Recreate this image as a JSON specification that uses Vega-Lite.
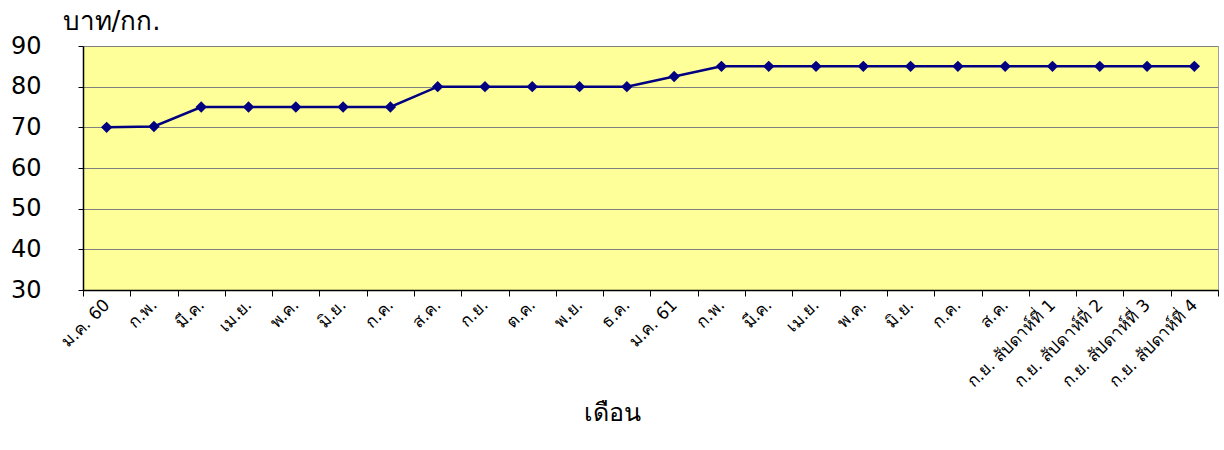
{
  "$schema": "https://vega.github.io/schema/vega-lite/v6.json",
  "autosize": {"type": "none"},
  "width": 1135,
  "height": 244,
  "padding": {"left": 83, "top": 46, "right": 6, "bottom": 160},
  "background": "#ffffff",
  "config": {
    "view": {"fill": "#ffff99", "stroke": "#a0a0a0", "strokeWidth": 1},
    "font": "DejaVu Sans"
  },
  "data": {
    "values": [
      {"key": "ม.ค. 60|0", "price": 70},
      {"key": "ก.พ.|1", "price": 70.2},
      {"key": "มี.ค.|2", "price": 75},
      {"key": "เม.ย.|3", "price": 75},
      {"key": "พ.ค.|4", "price": 75},
      {"key": "มิ.ย.|5", "price": 75},
      {"key": "ก.ค.|6", "price": 75},
      {"key": "ส.ค.|7", "price": 80},
      {"key": "ก.ย.|8", "price": 80},
      {"key": "ต.ค.|9", "price": 80},
      {"key": "พ.ย.|10", "price": 80},
      {"key": "ธ.ค.|11", "price": 80},
      {"key": "ม.ค. 61|12", "price": 82.5},
      {"key": "ก.พ.|13", "price": 85},
      {"key": "มี.ค.|14", "price": 85},
      {"key": "เม.ย.|15", "price": 85},
      {"key": "พ.ค.|16", "price": 85},
      {"key": "มิ.ย.|17", "price": 85},
      {"key": "ก.ค.|18", "price": 85},
      {"key": "ส.ค.|19", "price": 85},
      {"key": "ก.ย. สัปดาห์ที่ 1|20", "price": 85},
      {"key": "ก.ย. สัปดาห์ที่ 2|21", "price": 85},
      {"key": "ก.ย. สัปดาห์ที่ 3|22", "price": 85},
      {"key": "ก.ย. สัปดาห์ที่ 4|23", "price": 85}
    ]
  },
  "encoding": {
    "x": {
      "field": "key",
      "type": "ordinal",
      "sort": null,
      "scale": {"type": "band", "paddingInner": 0, "paddingOuter": 0},
      "axis": {
        "labelExpr": "datum.value ? split(datum.value, '|')[0] : ''",
        "labelAngle": -45,
        "labelAlign": "right",
        "labelBaseline": "middle",
        "labelFontSize": 17,
        "labelColor": "#000000",
        "labelPadding": 6,
        "labelOverlap": false,
        "tickBand": "extent",
        "tickColor": "#000000",
        "tickSize": 6,
        "domainColor": "#000000",
        "domainWidth": 1.5,
        "title": "เดือน",
        "titleFontSize": 25,
        "titleFontWeight": "normal",
        "titleColor": "#000000",
        "titleX": 529,
        "titleY": 122,
        "titleAlign": "center",
        "titleBaseline": "middle"
      }
    },
    "y": {
      "field": "price",
      "type": "quantitative",
      "scale": {"domain": [30, 90], "nice": false, "zero": false},
      "axis": {
        "values": [30, 40, 50, 60, 70, 80, 90],
        "labelFontSize": 24,
        "labelColor": "#000000",
        "labelPadding": 37,
        "tickSize": 5,
        "tickColor": "#000000",
        "domainColor": "#000000",
        "domainWidth": 1.5,
        "gridColor": "#808080",
        "gridWidth": 1,
        "gridOpacity": 1,
        "title": "บาท/กก.",
        "titleAngle": 0,
        "titleFontSize": 26,
        "titleFontWeight": "normal",
        "titleColor": "#000000",
        "titleX": -21,
        "titleY": -17,
        "titleAlign": "left",
        "titleBaseline": "alphabetic"
      }
    }
  },
  "layer": [
    {"mark": {"type": "line", "color": "#000080", "strokeWidth": 2.5}},
    {"mark": {"type": "point", "shape": "diamond", "filled": true, "color": "#000080", "opacity": 1, "size": 130}}
  ]
}
